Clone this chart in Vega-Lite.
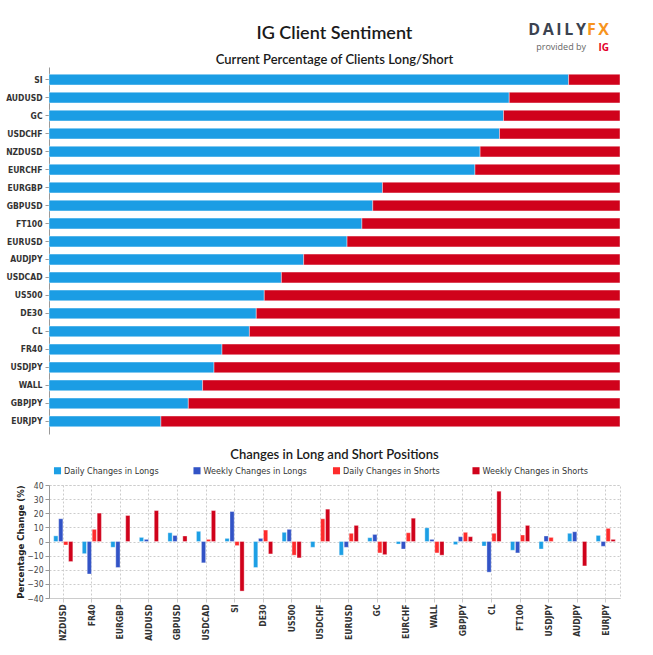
{
  "$schema": "https://vega.github.io/schema/vega-lite/v6.json",
  "padding": {"left": 5, "top": 22, "right": 5, "bottom": 5},
  "background": "white",
  "config": {
    "view": {"stroke": null},
    "axis": {"labelFont": "'DejaVu Sans Condensed', 'Liberation Sans Narrow', Roboto, sans-serif", "titleFont": "'DejaVu Sans Condensed', 'Liberation Sans Narrow', Roboto, sans-serif"},
    "legend": {"labelFont": "'DejaVu Sans Condensed', 'Liberation Sans Narrow', Roboto, sans-serif"},
    "title": {"font": "Lato", "fontWeight": 600, "color": "#1a1a1a"}
  },
  "spacing": 14,
  "resolve": {"scale": {"color": "independent"}, "legend": {"color": "independent"}},
  "vconcat": [
    {
      "spacing": 0,
      "vconcat": [
        {
          "spacing": 0,
          "bounds": "flush",
          "hconcat": [
            {
              "width": 571, "height": 1,
              "data": {"values": []},
              "mark": "point",
              "encoding": {},
              "title": {"text": "IG Client Sentiment", "fontSize": 18, "anchor": "middle", "offset": 10}
            },
            {
              "width": 1, "height": 1,
              "data": {"values": []},
              "mark": "point",
              "encoding": {},
              "title": {"text": "D\u2009A\u2009I\u2009L\u2009Y", "font": "Open Sans", "fontWeight": "bold", "fontSize": 16, "color": "#3b4350", "subtitle": "provided by", "subtitleFont": "Open Sans", "subtitleFontSize": 9, "subtitleColor": "#666666", "subtitlePadding": 5, "anchor": "end", "dx": -35, "offset": 1}
            },
            {
              "width": 1, "height": 1,
              "data": {"values": []},
              "mark": "point",
              "encoding": {},
              "title": {"text": "F\u2009X", "font": "Open Sans", "fontWeight": "bold", "fontSize": 16, "color": "#f7941d", "subtitle": "IG", "subtitleFont": "Open Sans", "subtitleFontSize": 10, "subtitleFontWeight": "bold", "subtitleColor": "#e4002b", "subtitlePadding": 5, "anchor": "end", "dx": -13, "offset": 0}
            }
          ]
        },
        {
          "width": 571,
          "height": 367,
          "title": {"text": "Current Percentage of Clients Long/Short", "fontSize": 13, "offset": 0},
          "data": {"values": [
            {"symbol": "SI", "Long": 91.0, "Short": 9.0},
            {"symbol": "AUDUSD", "Long": 80.6, "Short": 19.4},
            {"symbol": "GC", "Long": 79.6, "Short": 20.4},
            {"symbol": "USDCHF", "Long": 78.9, "Short": 21.1},
            {"symbol": "NZDUSD", "Long": 75.5, "Short": 24.5},
            {"symbol": "EURCHF", "Long": 74.6, "Short": 25.4},
            {"symbol": "EURGBP", "Long": 58.4, "Short": 41.6},
            {"symbol": "GBPUSD", "Long": 56.7, "Short": 43.3},
            {"symbol": "FT100", "Long": 54.8, "Short": 45.2},
            {"symbol": "EURUSD", "Long": 52.2, "Short": 47.8},
            {"symbol": "AUDJPY", "Long": 44.6, "Short": 55.4},
            {"symbol": "USDCAD", "Long": 40.7, "Short": 59.3},
            {"symbol": "US500", "Long": 37.7, "Short": 62.3},
            {"symbol": "DE30", "Long": 36.3, "Short": 63.7},
            {"symbol": "CL", "Long": 35.1, "Short": 64.9},
            {"symbol": "FR40", "Long": 30.3, "Short": 69.7},
            {"symbol": "USDJPY", "Long": 28.9, "Short": 71.1},
            {"symbol": "WALL", "Long": 26.9, "Short": 73.1},
            {"symbol": "GBPJPY", "Long": 24.4, "Short": 75.6},
            {"symbol": "EURJPY", "Long": 19.6, "Short": 80.4}
          ]},
          "transform": [{"fold": ["Long", "Short"], "as": ["side", "pct"]}],
          "mark": {"type": "bar", "stroke": "white", "strokeWidth": 0.6, "strokeOpacity": 0.7},
          "encoding": {
            "y": {
              "field": "symbol", "type": "nominal",
              "sort": ["SI","AUDUSD","GC","USDCHF","NZDUSD","EURCHF","EURGBP","GBPUSD","FT100","EURUSD","AUDJPY","USDCAD","US500","DE30","CL","FR40","USDJPY","WALL","GBPJPY","EURJPY"],
              "scale": {"paddingInner": 0.4, "paddingOuter": 0.4},
              "axis": {"title": null, "labelFontWeight": "bold", "labelFontSize": 8.5, "labelColor": "#333333", "tickColor": "#999999", "domainColor": "#999999", "tickSize": 4, "labelPadding": 3, "minExtent": 42, "maxExtent": 42}
            },
            "x": {"field": "pct", "type": "quantitative", "stack": "zero", "scale": {"domain": [0, 100], "nice": false}, "axis": null},
            "color": {"field": "side", "type": "nominal", "scale": {"domain": ["Long", "Short"], "range": ["#1b9de4", "#d0021b"]}, "legend": null}
          }
        }
      ]
    },
    {
      "width": 571,
      "height": 113,
      "title": {"text": "Changes in Long and Short Positions", "fontSize": 13, "offset": 0},
      "view": {"stroke": "#cccccc", "strokeDash": [2, 2]},
      "data": {"values": [
        {"symbol": "NZDUSD", "series": "Daily Changes in Longs", "change": 4.0},
        {"symbol": "NZDUSD", "series": "Weekly Changes in Longs", "change": 16.1},
        {"symbol": "NZDUSD", "series": "Daily Changes in Shorts", "change": -2.5},
        {"symbol": "NZDUSD", "series": "Weekly Changes in Shorts", "change": -14.2},
        {"symbol": "FR40", "series": "Daily Changes in Longs", "change": -8.6},
        {"symbol": "FR40", "series": "Weekly Changes in Longs", "change": -23.0},
        {"symbol": "FR40", "series": "Daily Changes in Shorts", "change": 8.6},
        {"symbol": "FR40", "series": "Weekly Changes in Shorts", "change": 20.1},
        {"symbol": "EURGBP", "series": "Daily Changes in Longs", "change": -4.1},
        {"symbol": "EURGBP", "series": "Weekly Changes in Longs", "change": -18.4},
        {"symbol": "EURGBP", "series": "Weekly Changes in Shorts", "change": 18.4},
        {"symbol": "AUDUSD", "series": "Daily Changes in Longs", "change": 2.9},
        {"symbol": "AUDUSD", "series": "Weekly Changes in Longs", "change": 1.5},
        {"symbol": "AUDUSD", "series": "Weekly Changes in Shorts", "change": 21.9},
        {"symbol": "GBPUSD", "series": "Daily Changes in Longs", "change": 6.2},
        {"symbol": "GBPUSD", "series": "Weekly Changes in Longs", "change": 4.3},
        {"symbol": "GBPUSD", "series": "Weekly Changes in Shorts", "change": 3.9},
        {"symbol": "USDCAD", "series": "Daily Changes in Longs", "change": 7.2},
        {"symbol": "USDCAD", "series": "Weekly Changes in Longs", "change": -15.1},
        {"symbol": "USDCAD", "series": "Daily Changes in Shorts", "change": 1.5},
        {"symbol": "USDCAD", "series": "Weekly Changes in Shorts", "change": 21.9},
        {"symbol": "SI", "series": "Daily Changes in Longs", "change": 2.2},
        {"symbol": "SI", "series": "Weekly Changes in Longs", "change": 21.2},
        {"symbol": "SI", "series": "Daily Changes in Shorts", "change": -2.9},
        {"symbol": "SI", "series": "Weekly Changes in Shorts", "change": -35.1},
        {"symbol": "DE30", "series": "Daily Changes in Longs", "change": -18.4},
        {"symbol": "DE30", "series": "Weekly Changes in Longs", "change": 2.2},
        {"symbol": "DE30", "series": "Daily Changes in Shorts", "change": 8.1},
        {"symbol": "DE30", "series": "Weekly Changes in Shorts", "change": -8.8},
        {"symbol": "US500", "series": "Daily Changes in Longs", "change": 6.5},
        {"symbol": "US500", "series": "Weekly Changes in Longs", "change": 8.6},
        {"symbol": "US500", "series": "Daily Changes in Shorts", "change": -9.7},
        {"symbol": "US500", "series": "Weekly Changes in Shorts", "change": -11.6},
        {"symbol": "USDCHF", "series": "Daily Changes in Longs", "change": -4.1},
        {"symbol": "USDCHF", "series": "Daily Changes in Shorts", "change": 16.1},
        {"symbol": "USDCHF", "series": "Weekly Changes in Shorts", "change": 22.9},
        {"symbol": "EURUSD", "series": "Daily Changes in Longs", "change": -9.7},
        {"symbol": "EURUSD", "series": "Weekly Changes in Longs", "change": -4.1},
        {"symbol": "EURUSD", "series": "Daily Changes in Shorts", "change": 5.8},
        {"symbol": "EURUSD", "series": "Weekly Changes in Shorts", "change": 11.4},
        {"symbol": "GC", "series": "Daily Changes in Longs", "change": 2.7},
        {"symbol": "GC", "series": "Weekly Changes in Longs", "change": 5.0},
        {"symbol": "GC", "series": "Daily Changes in Shorts", "change": -8.1},
        {"symbol": "GC", "series": "Weekly Changes in Shorts", "change": -9.3},
        {"symbol": "EURCHF", "series": "Daily Changes in Longs", "change": -1.8},
        {"symbol": "EURCHF", "series": "Weekly Changes in Longs", "change": -5.3},
        {"symbol": "EURCHF", "series": "Daily Changes in Shorts", "change": 6.2},
        {"symbol": "EURCHF", "series": "Weekly Changes in Shorts", "change": 16.5},
        {"symbol": "WALL", "series": "Daily Changes in Longs", "change": 9.7},
        {"symbol": "WALL", "series": "Weekly Changes in Longs", "change": 1.5},
        {"symbol": "WALL", "series": "Daily Changes in Shorts", "change": -8.1},
        {"symbol": "WALL", "series": "Weekly Changes in Shorts", "change": -9.7},
        {"symbol": "GBPJPY", "series": "Daily Changes in Longs", "change": -2.2},
        {"symbol": "GBPJPY", "series": "Weekly Changes in Longs", "change": 3.4},
        {"symbol": "GBPJPY", "series": "Daily Changes in Shorts", "change": 6.5},
        {"symbol": "GBPJPY", "series": "Weekly Changes in Shorts", "change": 3.4},
        {"symbol": "CL", "series": "Daily Changes in Longs", "change": -3.2},
        {"symbol": "CL", "series": "Weekly Changes in Longs", "change": -21.7},
        {"symbol": "CL", "series": "Daily Changes in Shorts", "change": 5.8},
        {"symbol": "CL", "series": "Weekly Changes in Shorts", "change": 35.6},
        {"symbol": "FT100", "series": "Daily Changes in Longs", "change": -6.2},
        {"symbol": "FT100", "series": "Weekly Changes in Longs", "change": -8.1},
        {"symbol": "FT100", "series": "Daily Changes in Shorts", "change": 4.6},
        {"symbol": "FT100", "series": "Weekly Changes in Shorts", "change": 11.4},
        {"symbol": "USDJPY", "series": "Daily Changes in Longs", "change": -5.3},
        {"symbol": "USDJPY", "series": "Weekly Changes in Longs", "change": 3.9},
        {"symbol": "USDJPY", "series": "Daily Changes in Shorts", "change": 2.9},
        {"symbol": "AUDJPY", "series": "Daily Changes in Longs", "change": 5.8},
        {"symbol": "AUDJPY", "series": "Weekly Changes in Longs", "change": 6.9},
        {"symbol": "AUDJPY", "series": "Weekly Changes in Shorts", "change": -17.3},
        {"symbol": "EURJPY", "series": "Daily Changes in Longs", "change": 4.3},
        {"symbol": "EURJPY", "series": "Weekly Changes in Longs", "change": -3.4},
        {"symbol": "EURJPY", "series": "Daily Changes in Shorts", "change": 9.3},
        {"symbol": "EURJPY", "series": "Weekly Changes in Shorts", "change": 1.5}
      ]},
      "mark": {"type": "bar", "stroke": "white", "strokeWidth": 0.5, "strokeOpacity": 0.7},
      "encoding": {
        "x": {
          "field": "symbol", "type": "nominal",
          "sort": ["NZDUSD","FR40","EURGBP","AUDUSD","GBPUSD","USDCAD","SI","DE30","US500","USDCHF","EURUSD","GC","EURCHF","WALL","GBPJPY","CL","FT100","USDJPY","AUDJPY","EURJPY"],
          "scale": {"paddingInner": 0.33, "paddingOuter": 0.165},
          "axis": {"title": null, "labelAngle": -90, "labelFontWeight": "bold", "labelFontSize": 8.5, "labelColor": "#333333", "grid": true, "gridDash": [2, 2], "gridColor": "#cccccc", "bandPosition": 0.5, "domainColor": "#cccccc", "tickColor": "#cccccc", "tickSize": 4, "labelPadding": 2}
        },
        "xOffset": {
          "field": "series", "type": "nominal",
          "sort": ["Daily Changes in Longs", "Weekly Changes in Longs", "Daily Changes in Shorts", "Weekly Changes in Shorts"],
          "scale": {"paddingInner": 0.15}
        },
        "y": {
          "field": "change", "type": "quantitative",
          "scale": {"domain": [-40, 40], "nice": false},
          "axis": {"title": "Percentage Change (%)", "titleFontSize": 9.5, "titleFontWeight": "bold", "titleColor": "#222222", "titlePadding": 4, "values": [-40, -30, -20, -10, 0, 10, 20, 30, 40], "grid": true, "gridDash": [2, 2], "gridColor": "#cccccc", "labelFontSize": 8.5, "labelColor": "#444444", "domainColor": "#999999", "tickColor": "#999999", "tickSize": 4, "labelPadding": 2, "minExtent": 20, "maxExtent": 20}
        },
        "color": {
          "field": "series", "type": "nominal",
          "sort": ["Daily Changes in Longs", "Weekly Changes in Longs", "Daily Changes in Shorts", "Weekly Changes in Shorts"],
          "scale": {"domain": ["Daily Changes in Longs", "Weekly Changes in Longs", "Daily Changes in Shorts", "Weekly Changes in Shorts"], "range": ["#1c9fe5", "#3253c6", "#fe2b2b", "#d0021b"]},
          "legend": {"orient": "top", "direction": "horizontal", "columns": 4, "gridAlign": "all", "title": null, "symbolType": "square", "symbolSize": 50, "symbolStrokeWidth": 0, "labelFontSize": 9, "labelColor": "#333333", "labelOffset": 2, "columnPadding": 22.5, "padding": 4, "offset": 5, "labelLimit": 300}
        }
      }
    }
  ]
}
